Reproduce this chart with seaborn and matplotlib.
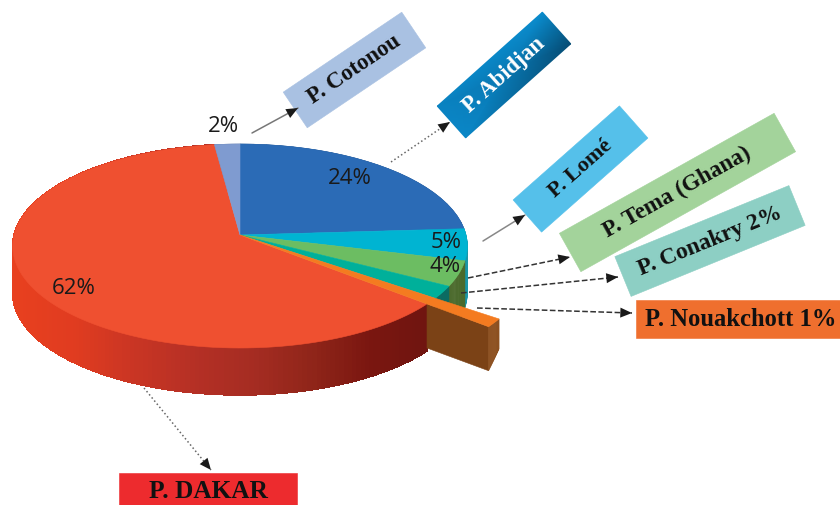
import numpy as np
import seaborn as sns
import matplotlib

matplotlib.use("Agg")
from matplotlib import pyplot as plt
from matplotlib.patches import Polygon

# pie data, clockwise from 12 o'clock
slice_names = ["Abidjan", "Lome", "Tema", "Conakry", "Nouakchott", "Dakar", "Cotonou"]
shares = [24, 5, 4, 2, 1, 62, 2]
top_colors = ["#2b6bb6", "#00b4d2", "#6cbd62", "#00b09a", "#f47b20", "#ef5030", "#7f9bd0"]
side_colors = ["#1d4a80", "#1a96a8", "#4b6a2c", "#0b6b62", "#7b4216", "#a52a20", "#5a73a0"]
# Dakar rim, left to right
red_side_ramp = ["#e8401f", "#e03c20", "#c93524", "#b53025", "#a52c22", "#8f2519", "#7a1610", "#6f1510"]

pct_labels = ["24%", "5%", "4%", "62%", "2%"]
pct_x = [350, 446, 445, 74, 223]
pct_y = [179, 243, 267, 288, 127]

box_labels = ["P. Cotonou", "P. Abidjan", "P. Lomé", "P. Tema (Ghana)", "P. Conakry 2%", "P. Nouakchott 1%", "P. DAKAR"]
box_cx = [354.5, 504, 580.5, 677.5, 710, 741, 208]
box_cy = [70, 75, 169, 192.5, 241, 319, 492]
box_w = [143, 141, 142, 246, 188, 210, 178]
box_h = [43, 42.5, 43, 44, 43, 38, 38]
box_angle = [34, 41.8, 41.5, 29.2, 22.2, 0, 0]
box_font = [16.5, 16.5, 16, 16.7, 16.9, 17.7, 18.3]
box_colors = ["#a9c1e2", "#0a80bf", "#55c0ea", "#a3d39b", "#8dcfc4", "#ef6f2e", "#ed2b2e"]

arrow_start_x = [252, 391, 483, 468, 461, 477, 144]
arrow_start_y = [133, 162, 241, 278, 293, 308, 388]
arrow_end_x = [298, 450, 525, 570, 618, 632, 211]
arrow_end_y = [108, 122, 215, 257, 277, 313, 470]
arrow_styles = ["-", ":", "-", "--", "--", "--", ":"]
arrow_colors = ["#777777", "#666666", "#888888", "#333333", "#333333", "#333333", "#666666"]

# perspective of the pie disc, in pixels
CX, CY = 240, 235
BX, BY, K = 226, 100.8, 0.108
DEPTH = 47
ORANGE_R = 1.3
ORANGE_DEPTH = 44
ORANGE_TIP_DEPTH = 30


def project(x, y):
    w = 1 + K * y
    return CX + BX * x / w, CY - BY * y / w


def arc(theta1, theta2, r=1.0, n=60):
    t = np.radians(np.linspace(theta1, theta2, n))
    return project(r * np.cos(t), r * np.sin(t))


def fill_poly(ax, xs, ys, color, zorder, aa=True):
    ax.add_patch(Polygon(np.column_stack([xs, ys]), closed=True, facecolor=color,
                         edgecolor=color, linewidth=0.4, zorder=zorder, antialiased=aa))


def draw_side(ax, xs, ys, depth, colors, zorder, aa=True):
    depth = np.broadcast_to(depth, np.shape(xs))
    for i in range(len(xs) - 1):
        fill_poly(ax, [xs[i], xs[i + 1], xs[i + 1], xs[i]],
                  [ys[i], ys[i + 1], ys[i + 1] + depth[i + 1], ys[i] + depth[i]], colors[i], zorder, aa)


sns.set_theme(style="white")
fig = plt.figure(figsize=(8.4, 5.05), dpi=100)
ax = fig.add_axes([0, 0, 1, 1])

wedges, _ = ax.pie(shares, startangle=90, counterclock=False, colors=top_colors)
ax.set(xlim=(0, 840), ylim=(505, 0))
ax.axis("off")

orange_index = slice_names.index("Nouakchott")
red_cmap = sns.blend_palette(red_side_ramp, as_cmap=True)
for i, wedge in enumerate(wedges):
    wedge.set_visible(False)
    if i == orange_index:
        continue
    if slice_names[i] == "Dakar":
        xs, ys = arc(wedge.theta1, wedge.theta2, n=200)
        cols = [red_cmap((x - 15) / 415) for x in xs]
        draw_side(ax, xs, ys, DEPTH, cols, zorder=2, aa=False)
    else:
        xs, ys = arc(wedge.theta1, wedge.theta2, n=24)
        draw_side(ax, xs, ys, DEPTH, [side_colors[i]] * 24, zorder=2)

for i, wedge in enumerate(wedges):
    if i == orange_index:
        continue
    xs, ys = arc(wedge.theta1, wedge.theta2, n=120)
    fill_poly(ax, np.r_[CX, xs], np.r_[CY, ys], top_colors[i], zorder=3)

# the Nouakchott slice sticks out of the disc
orange = wedges[orange_index]
xs, ys = arc(orange.theta1, orange.theta2, r=ORANGE_R, n=12)
rad = np.radians(orange.theta1)
rr = np.array([1.0, ORANGE_R])
rx, ry = project(rr * np.cos(rad), rr * np.sin(rad))
draw_side(ax, rx, ry, ORANGE_DEPTH, ["#7b4216"], zorder=4)
draw_side(ax, xs, ys, np.linspace(ORANGE_DEPTH, ORANGE_TIP_DEPTH, 12), ["#8a4c1a"] * 12, zorder=4)
fill_poly(ax, np.r_[CX, xs], np.r_[CY, ys], top_colors[orange_index], zorder=5)

for label, x, y in zip(pct_labels, pct_x, pct_y):
    ax.text(x, y, label, ha="center", va="center", fontsize=16, family="Open Sans",
            color="#1a1a1a", zorder=8)

for i, label in enumerate(box_labels):
    a = np.radians(box_angle[i])
    ux, uy = np.cos(a), -np.sin(a)
    vx, vy = np.sin(a), np.cos(a)
    hw, hh = box_w[i] / 2, box_h[i] / 2
    su = np.array([[-hw, hw], [-hw, hw]])
    sv = np.array([[-hh, -hh], [hh, hh]])
    gx = box_cx[i] + su * ux + sv * vx
    gy = box_cy[i] + su * uy + sv * vy
    if label == "P. Abidjan":
        # blue shading that darkens toward the right corner
        cmap = sns.blend_palette(["#0a8ccd", "#0a80bf", "#05689a", "#064c74"], as_cmap=True)
        grid = np.array([[0.25, 0.0], [0.15, 1.0]])
        ax.pcolormesh(gx, gy, grid, cmap=cmap, shading="gouraud", zorder=6)
        text_color = "white"
    else:
        fill_poly(ax, gx.ravel()[[0, 1, 3, 2]], gy.ravel()[[0, 1, 3, 2]], box_colors[i], zorder=6)
        text_color = "#111111"
    ax.text(box_cx[i], box_cy[i], label, rotation=box_angle[i], rotation_mode="anchor",
            ha="center", va="center", fontsize=box_font[i], fontweight="bold",
            family="Liberation Serif", color=text_color, zorder=7)

for x0, y0, x1, y1, style, color in zip(arrow_start_x, arrow_start_y, arrow_end_x, arrow_end_y,
                                         arrow_styles, arrow_colors):
    ax.plot([x0, x1], [y0, y1], linestyle=style, color=color, linewidth=1.1, zorder=7)
    ax.annotate("", xy=(x1, y1), xytext=(x1 - 0.2 * (x1 - x0), y1 - 0.2 * (y1 - y0)),
                arrowprops=dict(arrowstyle="-|>,head_length=0.7,head_width=0.3", color="#1a1a1a",
                                linewidth=0, shrinkA=0, shrinkB=0), zorder=7)

fig.savefig("out.png", dpi=100)
plt.close(fig)
